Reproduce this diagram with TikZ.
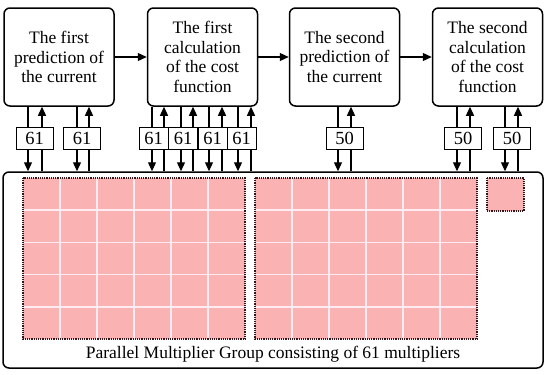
\documentclass[tikz,border=0pt]{standalone}
\usepackage{fontspec}
\setmainfont{Liberation Serif}
\usetikzlibrary{arrows.meta}
\definecolor{cellpink}{RGB}{250,178,178}
\definecolor{gridline}{RGB}{255,235,242}
\definecolor{dotcol}{RGB}{50,20,25}
\tikzset{
  stagebox/.style={draw, line width=1.5pt, rounded corners=6pt, minimum width=110pt, minimum height=98pt, align=center, font=\fontsize{17.5}{19.5}\selectfont, inner sep=1pt},
  numbox/.style={draw, fill=white, line width=0.9pt, minimum width=37pt, minimum height=22pt, inner sep=0pt, font=\fontsize{18.5}{20}\selectfont},
  numboxn/.style={numbox, minimum width=29pt},
  arr/.style={line width=1.2pt, -{Triangle[length=9pt,width=8pt]}},
  groupborder/.style={draw=dotcol, dash pattern=on 1.2pt off 1pt, line width=1.3pt},
}
\begin{document}
\begin{tikzpicture}[x=1pt,y=-1pt]
\useasboundingbox (0,0) rectangle (550,375);
% top stage boxes
\node[stagebox] (b1) at (59,57) {The first\\prediction of\\the current};
\node[stagebox] (b2) at (202.5,57) {The first\\calculation\\of the cost\\function};
\node[stagebox] (b3) at (344.5,57) {The second\\prediction of\\the current};
\node[stagebox] (b4) at (487.5,57) {The second\\calculation\\of the cost\\function};
\draw[arr] (b1) -- (b2);
\draw[arr] (b2) -- (b3);
\draw[arr] (b3) -- (b4);
% big multiplier box
\node[draw, line width=1.5pt, rounded corners=6pt, minimum width=540pt, minimum height=196pt, inner sep=0pt] (big) at (273,270) {};
% grids
\fill[cellpink] (23,178) rectangle (245,339);
\fill[cellpink] (255,178) rectangle (477,339);
\fill[cellpink] (487,178) rectangle (524,211);
\foreach \i in {1,...,5} {
  \draw[gridline, line width=1.5pt] (23+37*\i,178) -- (23+37*\i,339);
  \draw[gridline, line width=1.5pt] (255+37*\i,178) -- (255+37*\i,339);
}
\foreach \j in {1,...,4} {
  \draw[gridline, line width=1.5pt] (23,178+32.2*\j) -- (245,178+32.2*\j);
  \draw[gridline, line width=1.5pt] (255,178+32.2*\j) -- (477,178+32.2*\j);
}
\draw[groupborder] (23,178) rectangle (245,339);
\draw[groupborder] (255,178) rectangle (477,339);
\draw[groupborder] (487,178) rectangle (524,211);
\node[font=\fontsize{17.5}{19}\selectfont] (lbl) at (273,354) {Parallel Multiplier Group consisting of 61 multipliers};
% arrows: down (stage -> group) and up (group -> stage)
\foreach \d/\u/\b in {28/42/b1, 77/89/b1, 152/164/b2, 181/193/b2, 209/222/b2, 238/251/b2, 338/351/b3, 457/470/b4, 505/518/b4} {
  \draw[arr] (\d,0 |- \b.south) -- (\d,0 |- big.north);
  \draw[arr] (\u,0 |- big.north) -- (\u,0 |- \b.south);
}
% number boxes
\node[numbox] (n1) at (34.5,138) {61};
\node[numbox] (n2) at (82,138) {61};
\node[numboxn] (n3) at (153.5,138) {61};
\node[numboxn] (n4) at (183,138) {61};
\node[numboxn] (n5) at (212.5,138) {61};
\node[numboxn] (n6) at (241.5,138) {61};
\node[numbox] (n7) at (344.5,138) {50};
\node[numbox] (n8) at (463,138) {50};
\node[numbox] (n9) at (512,138) {50};
\end{tikzpicture}
\end{document}
